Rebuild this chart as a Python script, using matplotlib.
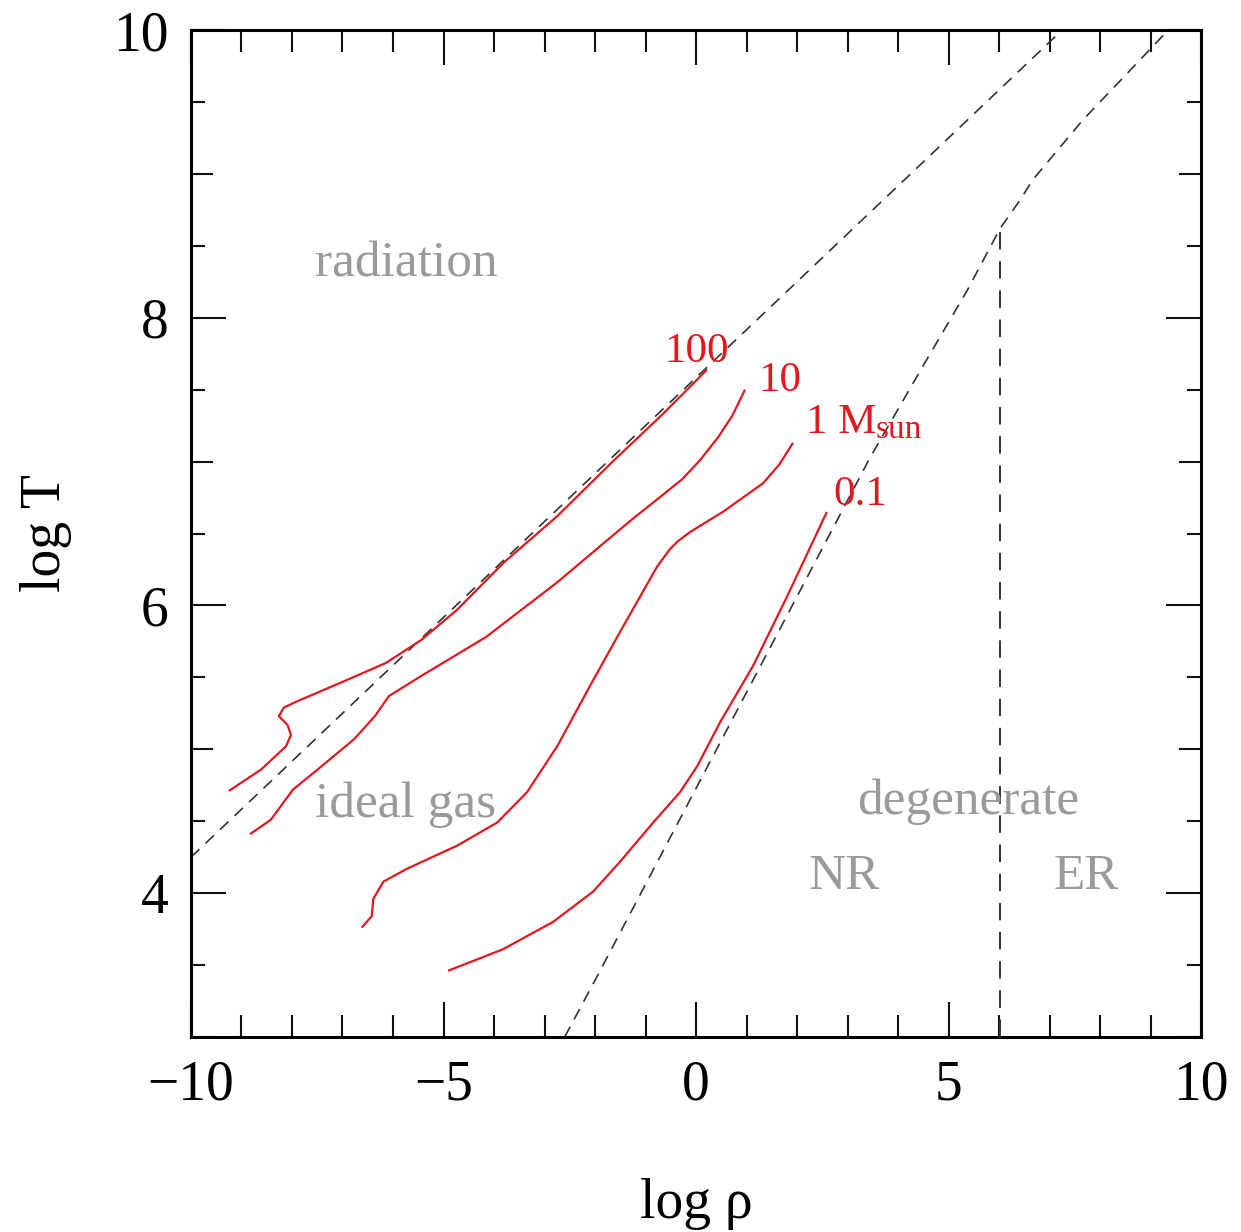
import numpy as np
import matplotlib
matplotlib.use("Agg")
import matplotlib.pyplot as plt
from matplotlib.ticker import MultipleLocator

plt.rcParams['font.family'] = ['Liberation Serif', 'DejaVu Serif']

# stellar tracks, log rho vs log T
m100_x = [-9.25, -8.61, -8.12, -8.02, -8.09, -8.26, -8.16, -7.92, -6.99, -6.14,
          -5.44, -4.73, -3.80, -2.75, -1.68, -0.63, 0.22]
m100_y = [4.71, 4.86, 5.02, 5.10, 5.17, 5.23, 5.29, 5.33, 5.47, 5.60,
          5.76, 5.97, 6.30, 6.62, 6.99, 7.34, 7.64]

m10_x = [-8.83, -8.42, -7.98, -7.49, -6.77, -6.36, -6.08, -5.44, -4.16, -2.75,
         -1.33, -0.28, 0.08, 0.44, 0.72, 0.97]
m10_y = [4.41, 4.51, 4.72, 4.86, 5.07, 5.23, 5.37, 5.51, 5.78, 6.16,
         6.58, 6.875, 7.01, 7.17, 7.32, 7.50]

m1_x = [-6.62, -6.42, -6.39, -6.19, -5.72, -4.73, -3.94, -3.35, -2.75, -2.10,
        -1.45, -0.77, -0.52, -0.38, -0.12, 0.53, 1.33, 1.65, 1.92]
m1_y = [3.76, 3.84, 3.96, 4.08, 4.17, 4.33, 4.49, 4.70, 5.02, 5.44,
        5.85, 6.27, 6.39, 6.44, 6.51, 6.65, 6.85, 6.98, 7.13]

m01_x = [-4.91, -3.82, -2.83, -2.04, -1.50, -0.85, -0.32, 0.02, 0.48, 1.13, 1.80, 2.59]
m01_y = [3.46, 3.61, 3.80, 4.01, 4.22, 4.49, 4.70, 4.88, 5.19, 5.58, 6.06, 6.65]

# boundaries
rad_x = [-10.0, 7.25]
rad_y = [4.25, 10.0]
deg_x = [-2.6, -1.9, 3.45, 4.57, 5.37, 6.02, 6.42, 6.67, 7.66, 8.65, 9.35]
deg_y = [3.0, 3.46, 7.03, 7.71, 8.19, 8.62, 8.82, 8.96, 9.375, 9.74, 10.0]
er_x = [6.02, 6.02]
er_y = [3.0, 8.62]

track_labels = ['100', '10', '1 M', '0.1']
track_lab_pos = [(-0.63, 7.69), (1.23, 7.49), (2.18, 7.20), (2.71, 6.70)]
regions = ['radiation', 'ideal gas', 'degenerate', 'NR', 'ER']
region_pos = [(-7.55, 8.285), (-7.55, 4.53), (3.19, 4.55), (2.22, 4.03), (7.07, 4.03)]

red = '#e3171f'
gray = '#979b9e'
dash = '#333333'

fig = plt.figure(figsize=(12.41, 12.32), dpi=100)
ax = fig.add_axes([0.1539, 0.1583, 0.8139, 0.8173])

ax.plot(rad_x, rad_y, color=dash, lw=1.2, dashes=(7, 5))
ax.plot(deg_x, deg_y, color=dash, lw=1.2, dashes=(7, 5))
ax.plot(er_x, er_y, color=dash, lw=1.4, dashes=(9, 6))

for xs, ys in [(m100_x, m100_y), (m10_x, m10_y), (m1_x, m1_y), (m01_x, m01_y)]:
    ax.plot(xs, ys, color=red, lw=1.6, solid_capstyle='butt', solid_joinstyle='round')

for lab, (x, y) in zip(track_labels, track_lab_pos):
    ax.text(x, y, lab, color=red, fontsize=31, ha='left', va='baseline')
ax.text(3.55, 7.165, 'sun', color=red, fontsize=24, ha='left', va='baseline')
for lab, (x, y) in zip(regions, region_pos):
    ax.text(x, y, lab, color=gray, fontsize=37, ha='left', va='baseline')

ax.set_xlim(-10, 10)
ax.set_ylim(3, 10)
ax.set_xticks([-10, -5, 0, 5, 10])
ax.set_yticks([4, 6, 8, 10])
ax.xaxis.set_minor_locator(MultipleLocator(1))
ax.yaxis.set_minor_locator(MultipleLocator(1))
ax.tick_params(which='both', direction='in', top=True, right=True,
               labelsize=40, width=1.5, color='#111111')
ax.tick_params(which='major', length=25)
ax.tick_params(which='minor', length=16)
ax.tick_params(axis='x', which='major', pad=16)
ax.tick_params(axis='y', which='major', pad=16)

# half-unit ticks on the y axis
half = [3.5, 4.5, 5.5, 6.5, 7.5, 8.5, 9.5]
for side in ['left', 'right']:
    sec = ax.secondary_yaxis(side)
    sec.set_yticks(half)
    sec.tick_params(direction='in', length=10, width=1.5, labelleft=False,
                    labelright=False, color='#111111')
    for sp in sec.spines.values():
        sp.set_visible(False)

for sp in ax.spines.values():
    sp.set_linewidth(2.2)

ax.set_xlabel('log ρ', fontsize=40, labelpad=48)
ax.set_ylabel('log T', fontsize=40, labelpad=30)

fig.savefig('out.png', dpi=100)
